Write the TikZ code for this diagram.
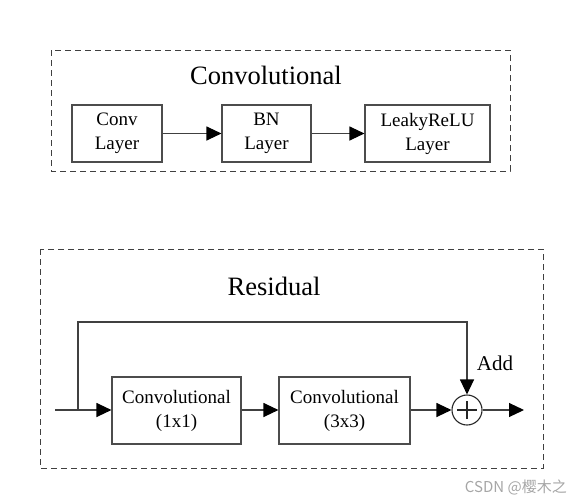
\documentclass[tikz,border=0pt]{standalone}
\usepackage{fontspec}
\setmainfont{Liberation Serif}
\newfontfamily\wmfont{Noto Sans CJK SC}
\usetikzlibrary{arrows.meta,positioning}
\tikzset{
  blk/.style={draw=black!70, line width=1.1pt, inner sep=0pt, align=center,
    font=\fontsize{19}{24}\selectfont},
  grp/.style={draw=black!75, line width=1pt, dash pattern=on 6pt off 4pt},
  ttl/.style={font=\fontsize{26.5}{30}\selectfont, inner sep=0pt},
  conn/.style={draw=black!75, line width=1.1pt, -{Triangle[length=15pt,width=14pt,color=black]}},
  plain/.style={draw=black!75, line width=1.1pt},
}
\begin{document}
\begin{tikzpicture}[x=1pt,y=-1pt]
\useasboundingbox (0,0) rectangle (573,498);
% top group
\draw[grp] (51,50) rectangle (510,171);
\node[ttl] (t1) at (266,75) {Convolutional};
\node[blk, minimum width=90pt, minimum height=57pt] (conv) at (117,133.5) {Conv\\Layer};
\node[blk, minimum width=89pt, minimum height=57pt] (bn) at (266.5,133.5) {BN\\Layer};
\node[blk, minimum width=125pt, minimum height=57pt] (leaky) at (427.5,133.5) {LeakyReLU\\Layer};
\draw[conn] (conv) -- (bn);
\draw[conn] (bn) -- (leaky);
% bottom group
\draw[grp] (40,249) rectangle (543,468);
\node[ttl] (t2) at (274,286) {Residual};
\coordinate (in) at (55,410);
\coordinate (split) at (78,410);
\coordinate (out) at (524,410);
\node[blk, minimum width=129pt, minimum height=67pt] (c1) at (176.5,410.5) {Convolutional\\(1x1)};
\node[blk, minimum width=131pt, minimum height=67pt] (c2) at (344.5,410.5) {Convolutional\\(3x3)};
\node[draw=black!85, line width=1.1pt, circle, minimum size=30pt, inner sep=0pt] (add) at (467,410) {};
\draw[black!85, line width=1.1pt] ([xshift=-10pt]add.center) -- ([xshift=10pt]add.center)
  ([yshift=-9pt]add.center) -- ([yshift=9pt]add.center);
\node[font=\fontsize{21}{24}\selectfont, inner sep=0pt] (addlbl) at (495,363) {Add};
\draw[plain] (in) -- (split);
\draw[conn] (split) -- (c1.west |- split);
\draw[conn] (c1.east |- split) -- (c2.west |- split);
\draw[conn] (c2.east |- add) -- (add.west);
\draw[conn] (add.east) -- (out);
\draw[conn] (split) -- (78,322) -| (add.north);
% watermark
\node[font=\wmfont\fontsize{15}{17}\selectfont, text=black!35, inner sep=0pt, anchor=east] (wm) at (567,487) {CSDN @樱木之};
\end{tikzpicture}
\end{document}
